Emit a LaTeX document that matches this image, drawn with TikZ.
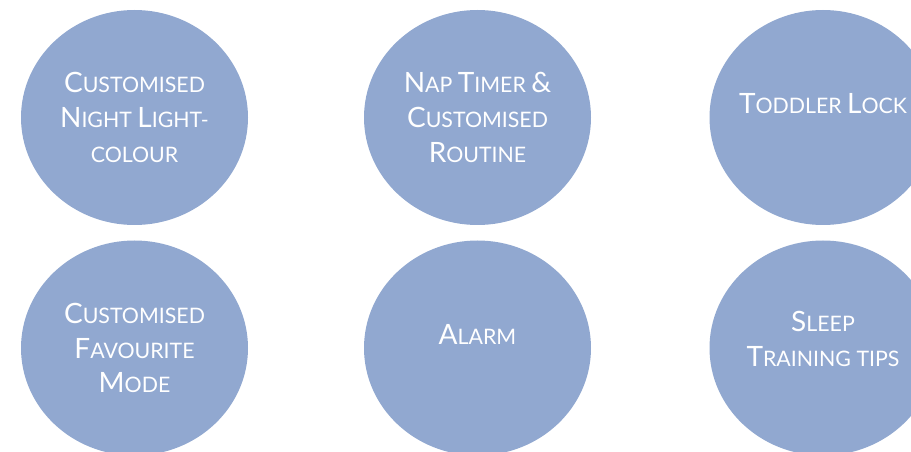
\documentclass[tikz,border=0pt]{standalone}
\usepackage{fontspec}
\setmainfont{Lato}
\usepackage{xcolor}
\usepackage{tikz}
\usetikzlibrary{shapes.geometric}

\definecolor{bubblecolor}{HTML}{91A8D0}
% 仿小型大写字母
\newcommand{\capbig}[1]{{\fontsize{21}{26}\selectfont #1}}
\newcommand{\capsmall}[1]{{\fontsize{16}{26}\selectfont #1}}
\newcommand{\fsc}[2]{\capbig{#1}\capsmall{#2}}

\begin{document}
\begin{tikzpicture}[x=0.75pt, y=-0.75pt,
    bubble/.style={ellipse, fill=bubblecolor, minimum width=170.25pt,
        minimum height=161.25pt, inner sep=0pt},
    bubbletext/.style={text=white, align=center, inner sep=0pt,
        font=\fontsize{16}{26}\selectfont}]
    % 画布范围
    \useasboundingbox (0,0) rectangle (911,452);

    % 六个圆
    \node[bubble] (nightlight) at (134.5,117.5) {};
    \node[bubble] (naptimer) at (477.5,117.5) {};
    \node[bubble] (toddlerlock) at (823,117.5) {};
    \node[bubble] (favourite) at (134.5,348) {};
    \node[bubble] (alarm) at (477.5,348) {};
    \node[bubble] (sleeptips) at (823,348) {};

    % 第一行文字
    \node[bubbletext] (nightlight-t) at (nightlight)
        {\fsc{C}{USTOMISED}\\ \fsc{N}{IGHT} \fsc{L}{IGHT}-\\ \capsmall{COLOUR}};
    \node[bubbletext] (naptimer-t) at (naptimer)
        {\fsc{N}{AP} \fsc{T}{IMER} \capbig{\&}\\ \fsc{C}{USTOMISED}\\ \fsc{R}{OUTINE}};
    \node[bubbletext] (toddlerlock-t) at ([yshift=10.5pt]toddlerlock.center)
        {\fsc{T}{ODDLER} \fsc{L}{OCK}};

    % 第二行文字
    \node[bubbletext] (favourite-t) at (favourite)
        {\fsc{C}{USTOMISED}\\ \fsc{F}{AVOURITE}\\ \fsc{M}{ODE}};
    \node[bubbletext] (alarm-t) at ([yshift=10.5pt]alarm.center)
        {\fsc{A}{LARM}};
    \node[bubbletext] (sleeptips-t) at ([yshift=7pt]sleeptips.center)
        {\fsc{S}{LEEP}\\ \fsc{T}{RAINING} \capsmall{TIPS}};
\end{tikzpicture}
\end{document}
